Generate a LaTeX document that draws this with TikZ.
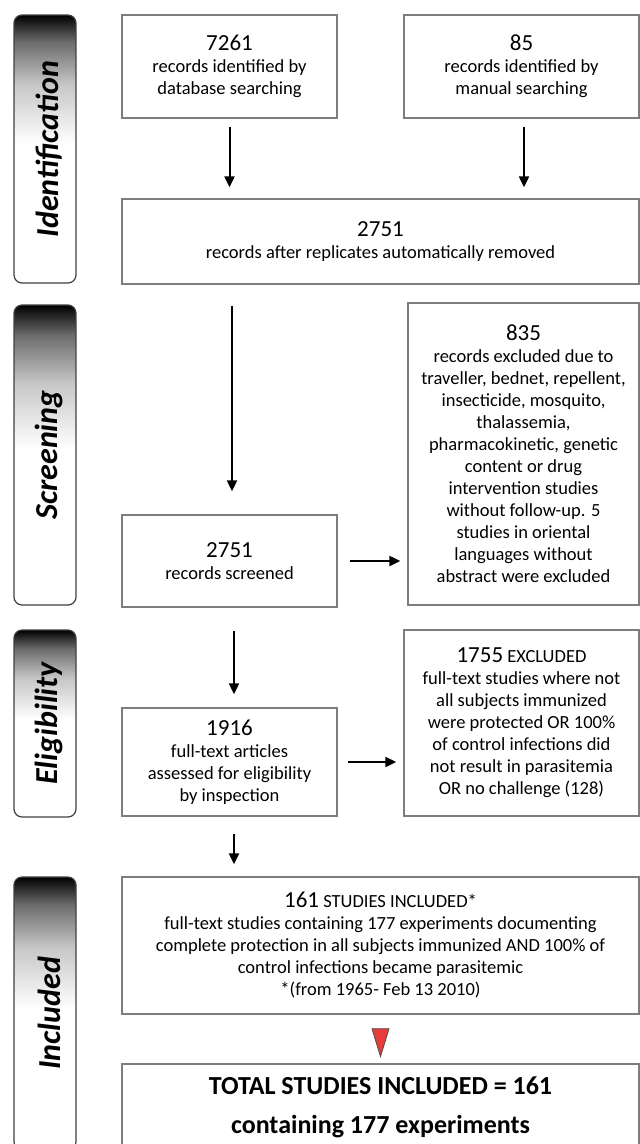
\documentclass[tikz,border=0pt]{standalone}
\usepackage{fontspec}
\setmainfont{Carlito}
\usetikzlibrary{arrows.meta,calc}
\pgfdeclareverticalshading{sidegrad}{100bp}{color(0bp)=(white); color(25bp)=(white); color(51bp)=(white); color(62bp)=(black!22); color(70bp)=(black!58); color(75bp)=(black); color(100bp)=(black)}
\definecolor{boxgray}{RGB}{125,125,125}
\definecolor{tri}{RGB}{232,60,60}
\newcommand\nb[1]{{\fontsize{23}{26}\selectfont #1}}
\tikzset{
  box/.style={draw=boxgray, line width=1.3pt, fill=white, align=center, inner sep=0pt,
    font=\fontsize{18.5}{22}\selectfont},
  sidebox/.style={draw=black!75, line width=1.2pt, rounded corners=8pt, shading=sidegrad,
    minimum width=62, inner sep=0pt},
  sidetext/.style={rotate=90, font=\fontsize{32}{36}\selectfont\bfseries\itshape},
  arr/.style={line width=2pt, -{Triangle[length=11pt,width=10pt]}},
}
\begin{document}
\begin{tikzpicture}[x=1pt,y=-1pt]
\useasboundingbox (0,0) rectangle (640,1144);
% side labels
\node[sidebox, minimum height=268] (s1) at (45,149) {};
\node[sidetext] (t1) at ([xshift=4pt]s1.center) {Identification};
\node[sidebox, minimum height=300] (s2) at (45,455) {};
\node[sidetext] (t2) at ([xshift=4pt]s2.center) {Screening};
\node[sidebox, minimum height=187] (s3) at (45,723.5) {};
\node[sidetext] (t3) at ([xshift=4pt]s3.center) {Eligibility};
\node[sidebox, minimum height=273] (s4) at (45,1013.5) {};
\node[sidetext] (t4) at ([xshift=4pt]s4.center) {Included};
% boxes
\node[box, minimum width=215, minimum height=103] (A) at (229.5,66.5)
  {\nb{7261}\\records identified by\\database searching};
\node[box, minimum width=235, minimum height=103] (B) at (521.5,66.5)
  {\nb{85}\\records identified by\\manual searching};
\node[box, minimum width=517, minimum height=85] (C) at (380.5,241.5)
  {\nb{2751}\\records after replicates automatically removed};
\node[box, minimum width=215, minimum height=92] (D) at (229.5,561)
  {\nb{2751}\\records screened};
\node[box, minimum width=231, minimum height=302] (E) at (523.5,454)
  {\nb{835}\\records excluded due to\\traveller, bednet, repellent,\\insecticide, mosquito,\\thalassemia,\\pharmacokinetic, genetic\\content or drug\\intervention studies\\without follow-up. 5\\studies in oriental\\languages without\\abstract were excluded};
\node[box, minimum width=215, minimum height=108] (F) at (229.5,762)
  {\nb{1916}\\full-text articles\\assessed for eligibility\\by inspection};
\node[box, minimum width=235, minimum height=186] (G) at (521.5,723)
  {\nb{1755} EXCLUDED\\full-text studies where not\\all subjects immunized\\were protected OR 100\%\\of control infections did\\not result in parasitemia\\OR no challenge (128)};
\node[box, minimum width=517, minimum height=137] (H) at (380.5,945.5)
  {\nb{161} STUDIES INCLUDED*\\full-text studies containing 177 experiments documenting\\complete protection in all subjects immunized AND 100\% of\\control infections became parasitemic\\*(from 1965- Feb 13 2010)};
\node[box, minimum width=517, minimum height=86, font=\fontsize{26}{39}\selectfont\bfseries] (I) at (380.5,1107)
  {TOTAL STUDIES INCLUDED = 161\\containing 177 experiments};
% connectors
\draw[arr, shorten <=8pt, shorten >=11pt] (A.south) -- (A.south |- C.north);
\draw[arr, shorten <=8pt, shorten >=11pt] ([xshift=2.5pt]B.south) -- ([xshift=2.5pt]B.south |- C.north);
\draw[arr, shorten <=21pt, shorten >=23pt] ([xshift=2.5pt]D.north |- C.south) -- ([xshift=2.5pt]D.north);
\draw[arr, shorten <=12pt, shorten >=7pt] (D.east) -- (D.east -| E.west);
\draw[arr, shorten <=23pt, shorten >=13pt] ([xshift=4.5pt]D.south) -- ([xshift=4.5pt]F.north);
\draw[arr, shorten <=10pt, shorten >=7pt] (F.east) -- (F.east -| G.west);
\draw[arr, shorten <=17pt, shorten >=12pt] ([xshift=4.5pt]F.south) -- ([xshift=4.5pt]F.south |- H.north);
\draw[fill=tri, draw=black!70, line width=0.8pt] ($(H.south)+(-8.5,14)$) -- ($(H.south)+(8.5,14)$) -- ($(H.south)+(0,42)$) -- cycle;
\end{tikzpicture}
\end{document}
